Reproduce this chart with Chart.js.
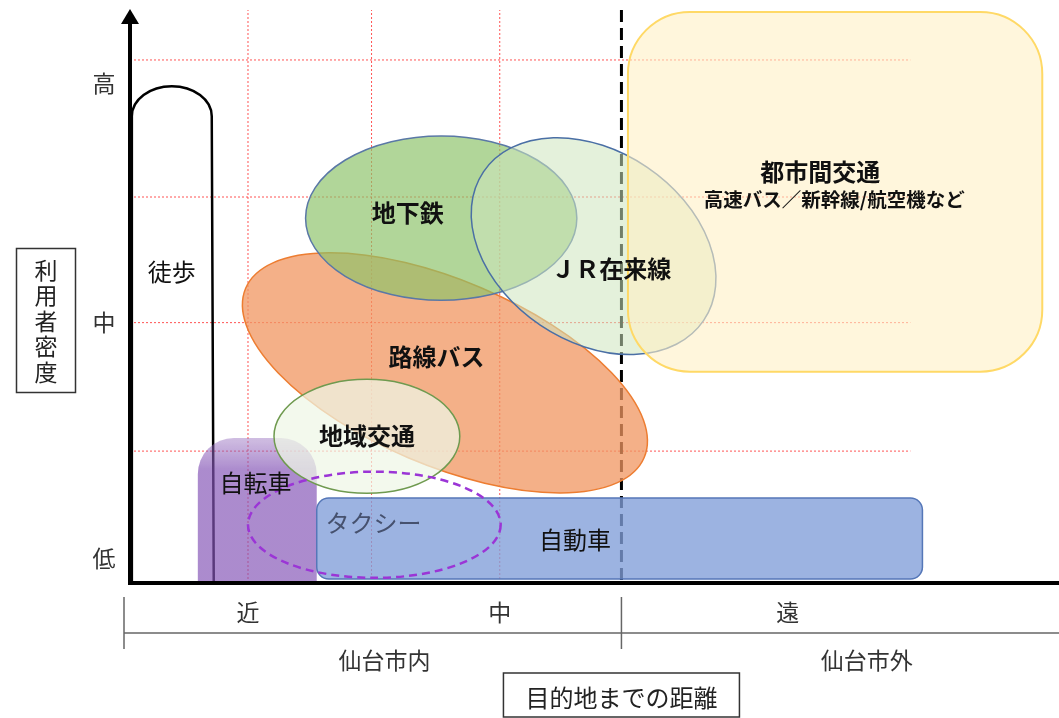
<!DOCTYPE html>
<html lang="ja">
<head>
<meta charset="utf-8">
<title>利用者密度と目的地までの距離</title>
<script src="https://cdn.jsdelivr.net/npm/chart.js@4.4.0/dist/chart.umd.min.js"></script>
<style>
  html, body { margin: 0; padding: 0; background: #fff; }
  #wrap { width: 1059px; height: 718px; position: relative; }
</style>
</head>
<body>
<div id="wrap"><canvas id="chart"></canvas></div>
<script>
// axis ticks (0-100 on both axes: distance / user density)
const yTickLabels = ['低', '中', '高'];
const yTickValues = [4.4, 45.6, 87.6];
const xTickLabels = ['近', '中', '遠'];
const xTickValues = [12.7, 39.8, 70.8];
const areaLabels = ['仙台市内', '仙台市外'];
const areaValues = [27.4, 79.3];
const cityBoundary = 52.9;
const gridX = [12.7, 26.0, 39.8];
const gridY = [23.1, 45.6, 67.6, 91.6];
const gridYEnd = 84.0;
const yTitle = '利用者密度';
const xTitle = '目的地までの距離';

// box shaped ranges: distance from/to, density from/to
const boxNames = ['徒歩', '自転車', '自動車', '都市間交通'];
const boxX0 = [0.2, 7.3, 20.1, 53.6];
const boxX1 = [8.8, 20.1, 85.3, 98.2];
const boxY0 = [0, 0, 0.7, 37.0];
const boxY1 = [87.0, 25.4, 14.9, 100];

// oval ranges: centre, half extent, tilt (deg)
const ovalNames = ['路線バス', '地下鉄', 'ＪＲ在来線', '地域交通', 'タクシー'];
const ovalX = [33.9, 33.5, 49.9, 25.5, 26.3];
const ovalY = [36.8, 63.9, 59.0, 25.7, 10.2];
const ovalRx = [23.3, 14.6, 14.3, 10.0, 13.6];
const ovalRy = [16.2, 14.4, 16.7, 10.0, 9.3];
const ovalTilt = [23, 0, 34, 0, 0];

// where each name is written
const labelX = { '徒歩': 4.5, '自転車': 13.5, '自動車': 47.9, '都市間交通': 74.3,
  '路線バス': 33.0, '地下鉄': 29.9, 'ＪＲ在来線': 51.8, '地域交通': 25.5, 'タクシー': 26.2 };
const labelY = { '徒歩': 54.5, '自転車': 17.5, '自動車': 7.5, '都市間交通': 72.0,
  '路線バス': 39.6, '地下鉄': 64.8, 'ＪＲ在来線': 55.0, '地域交通': 25.7, 'タクシー': 10.5 };
const subLabel = { text: '高速バス／新幹線/航空機など', x: 75.8, y: 67.1 };

const JP = '"Noto Sans CJK JP", "Noto Sans", sans-serif';
const STYLE = {
  '徒歩':     { stroke: '#000', width: 2.5, arc: 30, bold: false },
  '自転車':   { fill: 'rgba(132,84,182,0.68)', fillTop: 'rgba(150,110,190,0.45)', radius: 36, bold: false },
  '自動車':   { fill: 'rgba(128,158,216,0.78)', stroke: '#5577b8', width: 1.5, radius: 12, bold: false },
  '都市間交通': { fill: 'rgba(255,240,196,0.6)', stroke: '#ffd966', width: 2, radius: 62, bold: true },
  '路線バス': { fill: 'rgba(240,150,96,0.75)', stroke: '#ed7d31', width: 1.5, bold: true },
  '地下鉄':   { fill: 'rgba(140,194,104,0.68)', stroke: '#5a78a6', width: 1.5, bold: true },
  'ＪＲ在来線': { fill: 'rgba(206,230,190,0.55)', stroke: '#4a6fa5', width: 1.5, bold: true },
  '地域交通': { fill: 'rgba(238,246,230,0.72)', stroke: '#6f9a4f', width: 1.5, bold: true },
  'タクシー': { stroke: '#9b35d6', width: 2.5, dash: [8, 5], bold: false, color: '#46516e' }
};

function roundTop(ctx, l, t, r, b, rad, full){
    ctx.beginPath();
    ctx.moveTo(l, b - (full ? rad : 0));
    ctx.lineTo(l, t + rad);
    ctx.arcTo(l, t, l + rad, t, rad);
    ctx.lineTo(r - rad, t);
    ctx.arcTo(r, t, r, t + rad, rad);
    if(full){
        ctx.lineTo(r, b - rad);
        ctx.arcTo(r, b, r - rad, b, rad);
        ctx.lineTo(l + rad, b);
        ctx.arcTo(l, b, l, b - rad, rad);
    } else {
        ctx.lineTo(r, b);
        ctx.lineTo(l, b);
    }
    ctx.closePath();
}

function paint(ctx, st){
    if(st.fill){ ctx.fillStyle = st.fill; ctx.fill(); }
    if(st.stroke){
        ctx.strokeStyle = st.stroke; ctx.lineWidth = st.width || 1;
        ctx.setLineDash(st.dash || []); ctx.stroke(); ctx.setLineDash([]);
    }
}

const diagram = {
    id: 'diagram',
    afterDraw(chart){
        const { ctx, chartArea: a, scales: { x, y } } = chart;
        const px = v => x.getPixelForValue(v);
        const py = v => y.getPixelForValue(v);
        ctx.save();

        // red dotted guides
        ctx.strokeStyle = 'rgba(255,40,40,0.8)'; ctx.lineWidth = 1; ctx.setLineDash([2, 2]);
        gridY.forEach(v => { ctx.beginPath(); ctx.moveTo(a.left, py(v)); ctx.lineTo(px(gridYEnd), py(v)); ctx.stroke(); });
        gridX.forEach(v => { ctx.beginPath(); ctx.moveTo(px(v), a.bottom); ctx.lineTo(px(v), a.top - 2); ctx.stroke(); });

        // city boundary
        ctx.strokeStyle = '#000'; ctx.lineWidth = 3; ctx.setLineDash([12, 6]);
        ctx.beginPath(); ctx.moveTo(px(cityBoundary), a.top - 2); ctx.lineTo(px(cityBoundary), a.bottom); ctx.stroke();
        ctx.setLineDash([]);

        // walking (open outline with round top)
        {
            const st = STYLE[boxNames[0]];
            const l = px(boxX0[0]), r = px(boxX1[0]), t = py(boxY1[0]), b = py(boxY0[0]);
            const rx = (r - l) / 2;
            ctx.beginPath();
            ctx.moveTo(l, b); ctx.lineTo(l, t + st.arc);
            ctx.ellipse(l + rx, t + st.arc, rx, st.arc, 0, Math.PI, 2 * Math.PI);
            ctx.lineTo(r + 2, b);
            ctx.strokeStyle = st.stroke; ctx.lineWidth = st.width; ctx.stroke();
        }
        // bicycle (lighter at the top), car
        for(let i = 1; i <= 2; i++){
            const st = STYLE[boxNames[i]];
            const t = py(boxY1[i]), b = py(boxY0[i]);
            roundTop(ctx, px(boxX0[i]), t, px(boxX1[i]), b, st.radius, i === 2);
            if(st.fillTop){
                const g = ctx.createLinearGradient(0, t, 0, b);
                g.addColorStop(0, st.fillTop); g.addColorStop(0.22, st.fill); g.addColorStop(1, st.fill);
                paint(ctx, Object.assign({}, st, { fill: g }));
            } else paint(ctx, st);
        }
        // ovals
        ovalNames.forEach((n, k) => {
            const st = STYLE[n];
            ctx.beginPath();
            ctx.ellipse(px(ovalX[k]), py(ovalY[k]), px(ovalRx[k]) - px(0), py(0) - py(ovalRy[k]), ovalTilt[k] * Math.PI / 180, 0, 2 * Math.PI);
            paint(ctx, st);
        });
        // intercity
        {
            const st = STYLE[boxNames[3]];
            roundTop(ctx, px(boxX0[3]), py(boxY1[3]), px(boxX1[3]), py(boxY0[3]), st.radius, true);
            paint(ctx, st);
        }

        // axes
        ctx.strokeStyle = '#000'; ctx.lineWidth = 4;
        ctx.beginPath(); ctx.moveTo(a.left, a.top + 10); ctx.lineTo(a.left, a.bottom); ctx.lineTo(a.right, a.bottom); ctx.stroke();
        ctx.fillStyle = '#000';
        ctx.beginPath(); ctx.moveTo(a.left, a.top - 3); ctx.lineTo(a.left - 9, a.top + 12); ctx.lineTo(a.left + 9, a.top + 12); ctx.closePath(); ctx.fill();

        // names
        ctx.textAlign = 'center'; ctx.textBaseline = 'middle';
        Object.keys(labelX).forEach(n => {
            const st = STYLE[n];
            ctx.font = (st.bold ? 'bold ' : '') + '24px ' + JP;
            ctx.fillStyle = st.color || '#111';
            ctx.fillText(n, px(labelX[n]), py(labelY[n]));
        });
        ctx.font = 'bold 19.5px ' + JP; ctx.fillStyle = '#111';
        ctx.fillText(subLabel.text, px(subLabel.x), py(subLabel.y));

        // y ticks
        ctx.font = '23px ' + JP; ctx.fillStyle = '#333';
        yTickLabels.forEach((t, k) => ctx.fillText(t, a.left - 26, py(yTickValues[k])));

        // x category ticks + bracket
        xTickLabels.forEach((t, k) => ctx.fillText(t, px(xTickValues[k]), a.bottom + 29));
        areaLabels.forEach((t, k) => ctx.fillText(t, px(areaValues[k]), a.bottom + 77));
        ctx.strokeStyle = '#666'; ctx.lineWidth = 1.5;
        ctx.beginPath(); ctx.moveTo(a.left - 6, a.bottom + 50); ctx.lineTo(a.right, a.bottom + 50); ctx.stroke();
        [a.left - 6, px(cityBoundary)].forEach(xx => {
            ctx.beginPath(); ctx.moveTo(xx, a.bottom + 14); ctx.lineTo(xx, a.bottom + 66); ctx.stroke();
        });

        // axis titles in boxes
        ctx.strokeStyle = '#333'; ctx.lineWidth = 1.5; ctx.fillStyle = '#222';
        ctx.strokeRect(16.5, 248.5, 59, 144);
        [...yTitle].forEach((c, k) => ctx.fillText(c, 46, 270 + k * 25.5));
        const cx = px(cityBoundary);
        ctx.strokeRect(cx - 118, a.bottom + 90, 236, 44);
        ctx.font = '24px ' + JP;
        ctx.fillText(xTitle, cx, a.bottom + 115);

        ctx.restore();
    }
};

new Chart(document.getElementById('chart'), {
    type: 'scatter',
    data: { datasets: [] },
    options: {
        responsive: true, maintainAspectRatio: false, animation: false,
        layout: { padding: { left: 130, right: 0, top: 12, bottom: 135 } },
        plugins: { legend: { display: false }, tooltip: { enabled: false } },
        scales: {
            x: { type: 'linear', min: 0, max: 100, display: false },
            y: { type: 'linear', min: 0, max: 100, display: false }
        }
    },
    plugins: [diagram]
});
</script>
</body>
</html>
